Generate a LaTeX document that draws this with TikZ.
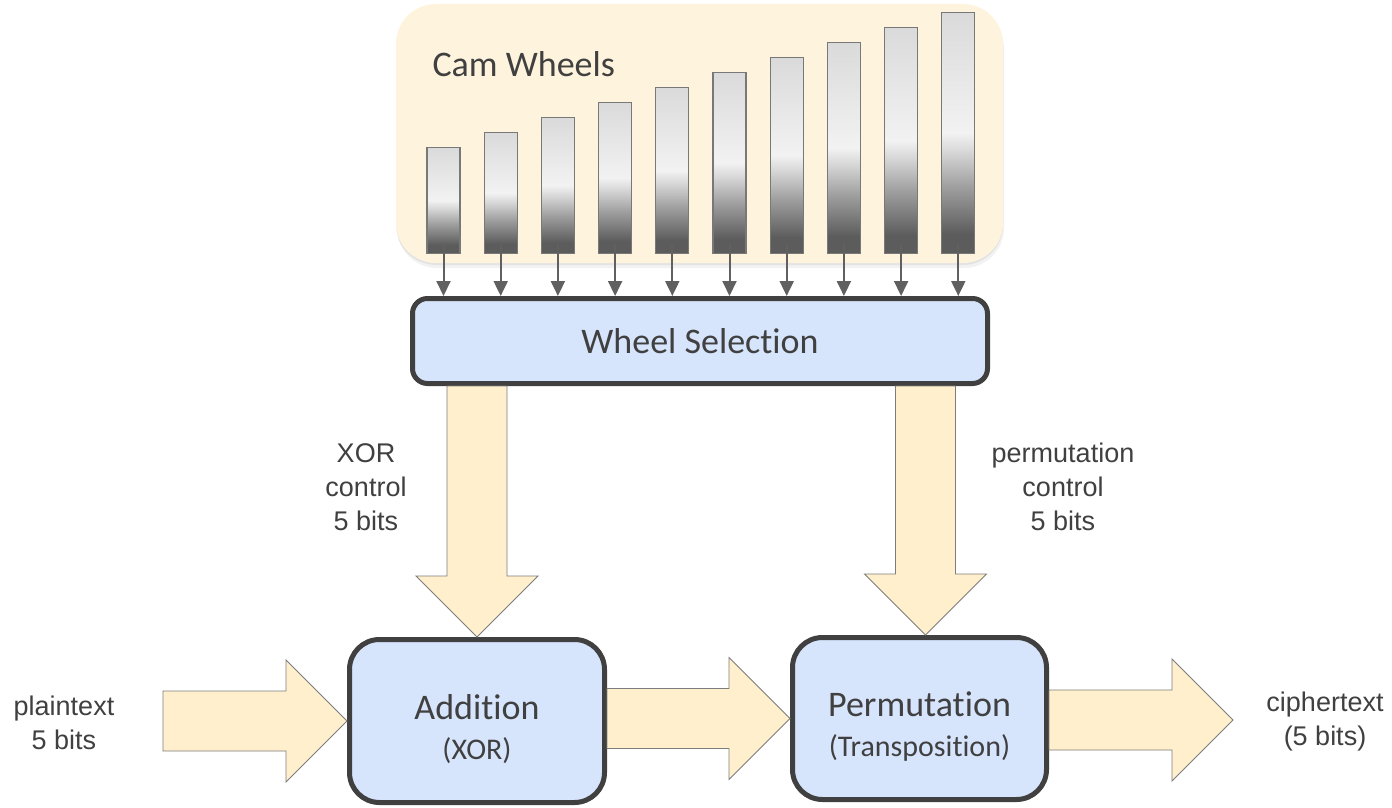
\documentclass[tikz,border=0pt]{standalone}
\usepackage{fontspec}
\setmainfont{Carlito}[Ligatures=NoCommon]
\newfontfamily\labelfont{Liberation Sans}
\usetikzlibrary{arrows.meta,calc,shadows}

\definecolor{panelcream}{RGB}{254,243,220}
\definecolor{boxblue}{RGB}{214,228,252}
\definecolor{boxline}{RGB}{64,64,64}
\definecolor{textgray}{RGB}{64,64,64}
\definecolor{arrowcream}{RGB}{255,239,204}
\definecolor{arrowline}{RGB}{125,125,125}
\definecolor{wheelgray}{RGB}{96,96,96}
\definecolor{wheelborder}{RGB}{120,120,120}
\definecolor{wheeldark}{RGB}{92,92,92}
\definecolor{wheelmid}{RGB}{160,160,160}
\definecolor{wheelsoft}{RGB}{214,214,214}
\definecolor{wheellight}{RGB}{242,242,242}
\definecolor{wheeltop}{RGB}{218,218,218}

\pgfdeclareverticalshading{camwheel}{100bp}{color(0bp)=(wheeldark); color(29bp)=(wheeldark);
  color(39bp)=(wheelmid); color(46bp)=(wheelsoft); color(50bp)=(wheellight);
  color(75bp)=(wheeltop); color(100bp)=(wheeltop)}

\tikzset{
  panel/.style={fill=panelcream, rounded corners=40pt, minimum width=607pt, minimum height=259pt,
    drop shadow={opacity=0.12, shadow xshift=0pt, shadow yshift=-2pt},
    drop shadow={opacity=0.10, shadow xshift=1pt, shadow yshift=-5pt}},
  wheel/.style={draw=wheelborder, line width=1.2pt, shade, shading=camwheel,
    minimum width=33pt, inner sep=0pt, anchor=south},
  wheelarrow/.style={draw=wheelgray, line width=2pt, -{Triangle[width=14pt,length=15pt]}},
  block/.style={draw=boxline, line width=5pt, fill=boxblue, text=textgray, align=center,
    inner sep=0pt, font=\fontsize{36}{40}\selectfont},
  blockarrow/.style={fill=arrowcream, draw=arrowline, line width=0.8pt},
  sidetext/.style={text=textgray, align=center, font=\labelfont\fontsize{27}{34}\selectfont}
}

% fat arrow pointing right, from #1 to the tip #2
\newcommand{\rightblock}[2]{%
  \filldraw[blockarrow] let \p1=(#1), \p2=(#2) in
    (\x1,{\y2+30pt}) -- ({\x2-61pt},{\y2+30pt}) -- ({\x2-61pt},{\y2+61pt}) -- (\x2,\y2)
    -- ({\x2-61pt},{\y2-61pt}) -- ({\x2-61pt},{\y2-30pt}) -- (\x1,{\y2-30pt}) -- cycle;}
% fat arrow pointing down, from #1 to the tip #2
\newcommand{\downblock}[2]{%
  \filldraw[blockarrow] let \p1=(#1), \p2=(#2) in
    ({\x2-30pt},\y1) -- ({\x2-30pt},{\y2+61pt}) -- ({\x2-61pt},{\y2+61pt}) -- (\x2,\y2)
    -- ({\x2+61pt},{\y2+61pt}) -- ({\x2+30pt},{\y2+61pt}) -- ({\x2+30pt},\y1) -- cycle;}

\begin{document}
\begin{tikzpicture}[x=1pt, y=-1pt]
  \path[use as bounding box, fill=white] (0,0) rectangle (1392,808);

  \node[panel] (cam) at (699.5,133.5) {};
  \node[anchor=base west, text=textgray, font=\fontsize{36}{40}\selectfont] (camtitle) at (429,77) {Cam Wheels};
  \foreach \i in {1,...,10}
    \node[wheel, minimum height={91pt+15pt*\i}] (w\i) at ({443.5+57.2*(\i-1)},254) {};

  \node[block, minimum width=575pt, minimum height=85pt, rounded corners=15pt] (ws) at (700,341) {Wheel Selection};
  \node[block, minimum width=255pt, minimum height=163pt, rounded corners=30pt] (add) at (477,721)
    {\rule{0pt}{41pt}Addition\\{\fontsize{30}{40}\selectfont(XOR)}};
  \node[block, minimum width=254pt, minimum height=162pt, rounded corners=30pt] (perm) at (919.5,718.5)
    {\rule{0pt}{41pt}Permutation\\{\fontsize{30}{40}\selectfont(Transposition)}};

  \foreach \i in {1,...,10}
    \draw[wheelarrow] ([yshift=10pt]w\i.south) -- (w\i.south |- ws.north);

  \coordinate (ptin) at (163,720);
  \coordinate (ctout) at (1233,720);
  \downblock{ws.south}{add.north}
  \downblock{ws.south}{[xshift=6pt]perm.north}
  \rightblock{ptin}{add.west}
  \rightblock{add.east}{perm.west}
  \rightblock{perm.east}{ctout}

  \node[sidetext] (xorctl) at (366,487) {XOR\\control\\5 bits};
  \node[sidetext] (permctl) at (1063,487) {permutation\\control\\5 bits};
  \node[sidetext] (plain) at (64,723) {plaintext\\5 bits};
  \node[sidetext] (cipher) at (1325,722) {ciphertext\\(5 bits)};
\end{tikzpicture}
\end{document}
